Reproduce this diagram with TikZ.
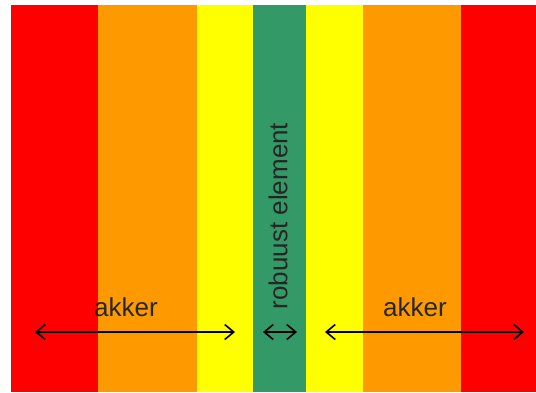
\documentclass[tikz,border=0pt]{standalone}
\usepackage{fontspec}
\setmainfont{Liberation Sans}
\usetikzlibrary{arrows.meta}
\definecolor{strookrood}{HTML}{FF0000}
\definecolor{strookoranje}{HTML}{FF9900}
\definecolor{strookgeel}{HTML}{FFFF00}
\definecolor{strookgroen}{HTML}{339966}
\begin{document}
\begin{tikzpicture}
			[
				x                       = 1pt,
				y                       = -1pt,
				strook/.style           = {fill=#1, draw=none},
				maat/.style             = {draw, line width=1.6pt, {Straight Barb[length=9pt,width=15pt]}-{Straight Barb[length=9pt,width=15pt]}},
				label/.style            = {text=black!85, font=\fontsize{26}{30}\selectfont, inner sep=0pt}
			]
			\useasboundingbox (0,0) rectangle (536,392);
			% stroken
			\foreach \van/\tot/\kleur in {11/98/strookrood, 98/197/strookoranje, 197/253/strookgeel,
				253/306/strookgroen, 306/363/strookgeel, 363/461/strookoranje, 461/536/strookrood}
				\fill [strook=\kleur] (\van,5) rectangle (\tot,392);
			% maatlijnen
			\coordinate (akkerL1) at (35,332);
			\coordinate (akkerL2) at (235,332);
			\coordinate (robuust1) at (263,332);
			\coordinate (robuust2) at (297,332);
			\coordinate (akkerR1) at (325,332);
			\coordinate (akkerR2) at (524,332);
			\draw [maat] (akkerL1) -- (akkerL2);
			\draw [maat] (robuust1) -- (robuust2);
			\draw [maat] (akkerR1) -- (akkerR2);
			\node [label] (akkerL) at (126,307) {akker};
			\node [label] (akkerR) at (415,307) {akker};
			\node [label, rotate=90] (robuust) at (278,216) {robuust element};
		\end{tikzpicture}
\end{document}
